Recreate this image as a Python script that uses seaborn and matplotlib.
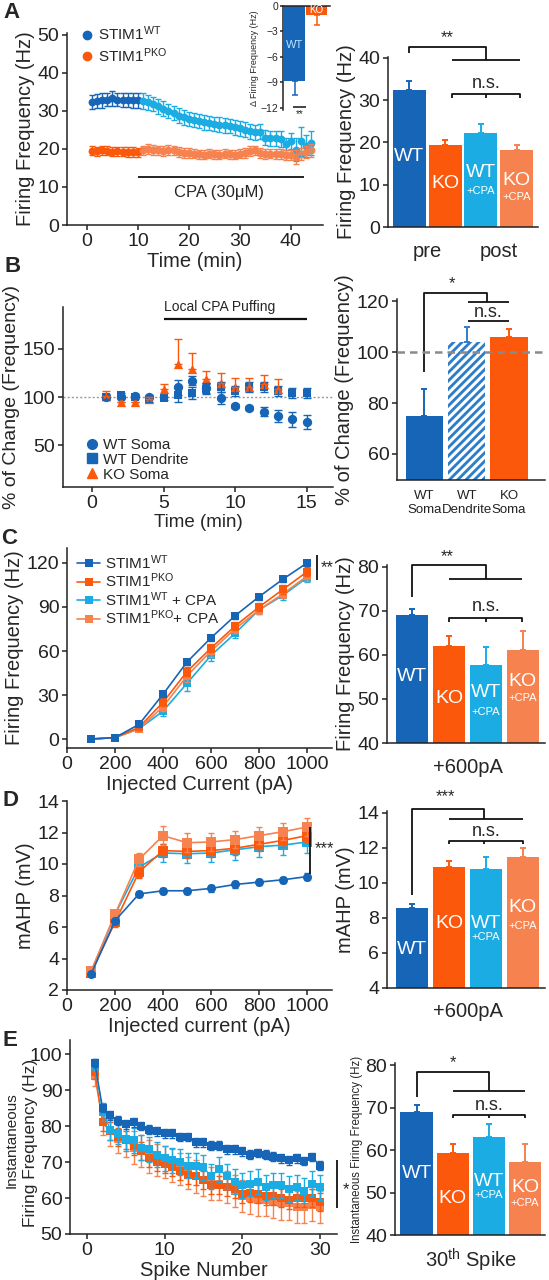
import numpy as np
import matplotlib
matplotlib.use("Agg")
import matplotlib.pyplot as plt
import seaborn as sns
from matplotlib.lines import Line2D

# ---------------- data ----------------
# A: time course (min) of firing frequency, WT / PKO
a_time = list(range(1, 45))
a_wt = [32.4, 32.6, 32.8, 33.0, 33.3, 33.0, 32.9, 32.9, 32.8, 32.8,
        32.6, 32.3, 31.8, 31.2, 30.6, 30.0, 29.4, 28.8, 28.3, 27.9,
        27.6, 27.3, 27.0, 26.8, 26.6, 26.4, 26.2, 26.0, 25.7, 25.4,
        25.1, 24.6, 24.4, 24.5, 23.0, 22.8, 22.8, 22.6, 21.3, 22.1,
        19.8, 22.0, 20.8, 21.5]
a_wt_err = [1.8, 1.8, 1.9, 1.8, 1.9, 1.8, 1.8, 1.8, 1.9, 1.9,
            2.0, 2.0, 1.9, 1.9, 1.9, 1.9, 1.9, 1.9, 1.9, 1.9,
            1.9, 1.9, 1.9, 1.9, 1.9, 1.9, 1.9, 1.9, 1.9, 1.9,
            1.9, 1.9, 2.0, 2.0, 2.0, 2.0, 2.0, 2.0, 1.5, 2.0,
            3.0, 3.8, 3.0, 3.2]
a_ko = [19.5, 19.4, 19.6, 19.5, 19.3, 19.4, 19.3, 19.2, 19.2, 19.1,
        19.6, 20.0, 19.8, 19.6, 19.4, 19.8, 19.6, 19.3, 19.0, 18.9,
        18.8, 18.6, 18.5, 18.7, 18.6, 18.5, 18.7, 18.6, 18.5, 18.8,
        19.0, 19.4, 19.6, 19.0, 18.7, 18.8, 18.6, 18.7, 18.5, 18.4,
        17.8, 18.6, 19.2, 19.6]
a_ko_err = [1.2, 1.2, 1.2, 1.2, 1.2, 1.2, 1.2, 1.2, 1.2, 1.2,
            1.3, 1.4, 1.3, 1.3, 1.3, 1.3, 1.3, 1.3, 1.3, 1.3,
            1.2, 1.2, 1.2, 1.2, 1.2, 1.2, 1.2, 1.2, 1.2, 1.2,
            1.3, 1.3, 1.3, 1.3, 1.3, 1.3, 1.3, 1.3, 1.3, 1.4,
            1.8, 1.6, 1.5, 1.6]
a_delta = [-8.8, -1.1]
a_delta_err = [1.7, 1.1]
a_bar = [32.5, 19.5, 22.2, 18.3]
a_bar_err = [2.0, 1.0, 2.1, 1.2]

# B: local CPA puffing, % of change
b_time = list(range(1, 16))
b_wt_soma = [100, 100, 101, 100, np.nan, 110, 117, 109, 99, 91, 88.5, 85, 80.5, 77, 74.5]
b_wt_soma_err = [2, 2, 2, 2, 0, 8, 5, 5, 6, 2, 2, 5, 6, 8, 7]
b_wt_dend = [100, 102.5, 100, 97, 98.5, 102.5, 104, 108.5, 110, 106.5, 110.5, 110, 106.5, 104, 104]
b_wt_dend_err = [3, 2, 2, 2, 2, 8, 6, 5, 5, 5, 5, 5, 5, 5, 5]
b_ko_time = list(range(1, 14))
b_ko_soma = [101, 95, 95, 98, 108, 134, 129, 119, 114, 110, 110, 113, 108]
b_ko_soma_err = [5, 0, 0, 2, 5, 26, 16, 8, 11, 10, 10, 10, 11]
b_cats = ["WT\nSoma", "WT\nDendrite", "KO\nSoma"]
b_bar = [75, 104, 106]
b_bar_err = [10.5, 6, 3]

# C: F-I curves
ci_current = [100, 200, 300, 400, 500, 600, 700, 800, 900, 1000]
c_wt = [0, 1, 10, 30.5, 52.5, 69, 84, 97, 109, 120]
c_wt_err = [0, 0.5, 1.5, 2, 2, 2, 2, 2, 2, 2]
c_ko = [0, 1, 8, 25, 46, 62, 77, 90, 102, 114]
c_ko_err = [0, 0.5, 1.5, 2.5, 3, 3, 3, 3, 3, 3]
c_wtc = [0, 1, 7, 19, 38, 57, 72, 88, 98, 110]
c_wtc_err = [0, 0.5, 1.5, 3, 5, 4, 3, 3, 3, 3]
c_koc = [0, 1, 7, 22, 43, 60, 75, 88, 99, 111]
c_koc_err = [0, 0.5, 1.5, 3, 4, 4, 3, 3, 3, 3]
c_bar = [69, 62, 57.7, 61]
c_bar_err = [1.5, 2.2, 4.1, 4.5]

# D: mAHP
d_wt = [3.0, 6.4, 8.1, 8.3, 8.3, 8.45, 8.7, 8.85, 9.0, 9.2]
d_wt_err = [0.1, 0.2, 0.2, 0.2, 0.2, 0.2, 0.2, 0.2, 0.2, 0.2]
d_ko = [3.1, 6.3, 9.5, 10.85, 10.8, 10.85, 11.0, 11.25, 11.5, 11.8]
d_ko_err = [0.2, 0.3, 0.4, 0.4, 0.4, 0.4, 0.4, 0.4, 0.4, 0.4]
d_wtc = [3.1, 6.8, 9.8, 10.7, 10.65, 10.7, 10.9, 11.1, 11.2, 11.4]
d_wtc_err = [0.2, 0.3, 0.6, 0.6, 0.6, 0.6, 0.65, 0.65, 0.65, 0.7]
d_koc = [3.2, 6.8, 10.3, 11.8, 11.35, 11.4, 11.55, 11.8, 12.05, 12.35]
d_koc_err = [0.2, 0.3, 0.4, 0.6, 0.6, 0.55, 0.55, 0.55, 0.55, 0.55]
d_bar = [8.55, 10.9, 10.8, 11.5]
d_bar_err = [0.25, 0.35, 0.65, 0.5]

# E: instantaneous frequency per spike
e_spike = list(range(1, 31))
e_wt = [97.5, 85, 83, 81.5, 80.5, 81, 80, 79, 78.5, 78,
        78, 77, 77, 75.5, 75.5, 74.5, 74.5, 73.5, 73.5, 73,
        72, 72.5, 72, 71.5, 71, 70.5, 71, 70.3, 71.4, 69]
e_wt_err = [1.2, 1.2, 1.2, 1.2, 1.2, 1.2, 1.2, 1.2, 1.2, 1.2,
            1.2, 1.2, 1.2, 1.2, 1.2, 1.2, 1.2, 1.2, 1.2, 1.2,
            1.2, 1.2, 1.2, 1.2, 1.2, 1.2, 1.2, 1.2, 1.2, 1.2]
e_wtc = [97, 84, 79, 78, 76.5, 76, 74, 73.5, 72, 71,
         70.5, 70, 69, 69, 68.5, 66, 68, 66, 64.5, 63.5,
         64, 64.5, 63, 63.5, 63.5, 62.5, 63, 62, 64, 63]
e_wtc_err = [1.5, 2.5, 3, 3, 3.5, 3.5, 3.5, 3.5, 3.5, 3.5,
             3.5, 3.5, 3.5, 3.5, 3.5, 3.5, 3.5, 3.5, 3.5, 3.5,
             3.5, 3.5, 3.5, 3.5, 3.5, 3.5, 3.5, 3.5, 3.5, 3.5]
e_ko = [95, 81, 78.5, 77, 76, 74.5, 73, 71, 70, 69.5,
        68.5, 67.5, 66.5, 66, 65, 63.5, 63.5, 63, 62.5, 61,
        61.5, 61, 60.5, 60.5, 60, 59.5, 60, 60, 60, 59]
e_ko_err = [2, 2.5, 2.5, 2.5, 2.5, 2.5, 2.5, 2.5, 2.5, 2.5,
            2.5, 2.5, 2.5, 2.5, 2.5, 2.5, 2.5, 2.5, 2.5, 2.5,
            2.5, 2.5, 2.5, 2.5, 2.5, 2.5, 2.5, 2.5, 2.5, 2.5]
e_koc = [94, 81, 78.5, 76.5, 76, 74, 73, 71.5, 70.5, 70,
         69, 68, 67, 66, 65, 64, 64, 63, 62, 60.5,
         60, 59.5, 59.5, 59, 58.5, 58.5, 57.5, 57.5, 58, 57.5]
e_koc_err = [3, 3.5, 4, 4, 4.5, 4.5, 4.5, 4.5, 4.5, 4.5,
             4.5, 4.5, 4.5, 4.5, 4.5, 4.5, 4.5, 4.5, 4.5, 4.5,
             4.5, 4.5, 4.5, 4.5, 4.5, 4.5, 4.5, 4.5, 4.5, 4.5]
e_bar = [69, 59.2, 63, 57.2]
e_bar_err = [1.5, 2.3, 3.2, 4.3]

bar_cats = ["WT", "KO", "WT+CPA", "KO+CPA"]

# ---------------- style ----------------
sns.set_style("ticks")
plt.rcParams["font.family"] = ["Liberation Sans", "DejaVu Sans"]
plt.rcParams["mathtext.fontset"] = "custom"
plt.rcParams["mathtext.rm"] = "Liberation Sans"
plt.rcParams["mathtext.it"] = "Liberation Sans:italic"
plt.rcParams["axes.linewidth"] = 1.1
plt.rcParams["axes.edgecolor"] = "#222222"
plt.rcParams["xtick.major.width"] = 1.1
plt.rcParams["ytick.major.width"] = 1.1
plt.rcParams["xtick.major.size"] = 3.5
plt.rcParams["ytick.major.size"] = 3.5
plt.rcParams["xtick.major.pad"] = 2
plt.rcParams["ytick.major.pad"] = 2
plt.rcParams["hatch.linewidth"] = 2.2
plt.rcParams["hatch.color"] = "white"

col_wt = "#1665B7"
col_ko = "#FC580C"
col_wtc = "#1BACE4"
col_koc = "#F68250"
bar_cols = [col_wt, col_ko, col_wtc, col_koc]

W, H = 549, 1280
fig = plt.figure(figsize=(W / 100, H / 100), dpi=100)
TICK = 14
LAB = 14.5


def add_ax(x0, y0, x1, y1):
    return fig.add_axes([x0 / W, 1 - y1 / H, (x1 - x0) / W, (y1 - y0) / H])


def style(ax, size=TICK):
    sns.despine(ax=ax)
    ax.tick_params(labelsize=size, colors="#222222")


def line(ax, xs, ys, lw=1.3):
    ax.plot(xs, ys, color="#111111", lw=lw, clip_on=False, solid_capstyle="butt")


def bar_panel(ax, cats, vals, errs, cols, width):
    sns.barplot(x=cats, y=vals, hue=cats, palette=cols, legend=False,
                width=width, saturation=1, ax=ax, linewidth=0)
    for i, (v, e, c) in enumerate(zip(vals, errs, cols)):
        ax.errorbar(i, v, yerr=[[0], [e]], fmt="none", ecolor=c,
                    elinewidth=1.4, capsize=2.5, capthick=1.4)
    ax.tick_params(axis="x", length=0)
    ax.set_xlabel("")
    style(ax)


def inner(ax, x, y, s, size=14):
    ax.text(x, y, s, color="white", ha="center", va="center", fontsize=size)


def errs(ax, x, y, e, c, cap=2):
    ax.errorbar(x, y, yerr=e, fmt="none", ecolor=c, elinewidth=1.0,
                capsize=cap, capthick=1.0)


def ftext(x, y, s, **kw):
    fig.text(x / W, 1 - y / H, s, **kw)


# ================= A =================
ax = add_ax(67, 33, 323, 225)
errs(ax, a_time[:10], a_wt[:10], a_wt_err[:10], col_wt)
errs(ax, a_time[10:], a_wt[10:], a_wt_err[10:], col_wtc)
errs(ax, a_time[:10], a_ko[:10], a_ko_err[:10], col_ko)
errs(ax, a_time[10:], a_ko[10:], a_ko_err[10:], col_koc)
sns.scatterplot(x=a_time[:10], y=a_wt[:10], color=col_wt, s=32, linewidth=0, ax=ax)
sns.scatterplot(x=a_time[10:], y=a_wt[10:], color=col_wtc, s=32, linewidth=0, ax=ax)
sns.scatterplot(x=a_time[:10], y=a_ko[:10], color=col_ko, s=32, linewidth=0, ax=ax)
sns.scatterplot(x=a_time[10:], y=a_ko[10:], color=col_koc, s=32, linewidth=0, ax=ax)
ax.set_xlim(-3.9, 46.3)
ax.set_ylim(0, 50.5)
ax.set_xticks([0, 10, 20, 30, 40])
ax.set_yticks([0, 10, 20, 30, 40, 50])
line(ax, [10, 42.5], [12.7, 12.7], lw=1.3)
ax.text(26, 8.5, "CPA (30\u03bcM)", ha="center", va="center", fontsize=12)
ax.set_xlabel("Time (min)", fontsize=LAB, labelpad=2)
ax.set_ylabel("Firing Frequency (Hz)", fontsize=LAB, labelpad=2)
h = [Line2D([], [], marker="o", ls="none", color=col_wt, markersize=6),
     Line2D([], [], marker="o", ls="none", color=col_ko, markersize=6)]
ax.legend(h, ["STIM1$^{\\mathrm{WT}}$", "STIM1$^{\\mathrm{PKO}}$"], loc="upper left",
          bbox_to_anchor=(0.06, 1.045), frameon=False, fontsize=11,
          handlelength=0.6, handletextpad=0.4, borderpad=0, borderaxespad=0,
          labelspacing=0.2)
style(ax)

# inset
ax = add_ax(283, 6, 330, 110)
sns.barplot(x=["WT", "KO"], y=a_delta, hue=["WT", "KO"], palette=[col_wt, col_ko],
            legend=False, width=0.95, saturation=1, ax=ax, linewidth=0)
for i, (v, e, c) in enumerate(zip(a_delta, a_delta_err, [col_wt, col_ko])):
    ax.errorbar(i, v, yerr=[[e], [0]], fmt="none", ecolor=c, elinewidth=1.1,
                capsize=2, capthick=1.1)
ax.set_xlim(-0.52, 1.6)
ax.set_ylim(-12.25, 0)
ax.set_yticks([0, -3, -6, -9, -12])
ax.set_xticks([])
ax.set_xlabel("")
for s in ["right", "bottom"]:
    ax.spines[s].set_visible(False)
ax.tick_params(labelsize=7.5, length=2.5, pad=1)
ax.set_ylabel("\u0394 Firing Frequency (Hz)", fontsize=6.5, labelpad=1)
ax.text(0, -4.6, "WT", color="#BFE4FA", ha="center", va="center", fontsize=8)
ax.text(1, -0.5, "KO", color="white", ha="center", va="center", fontsize=7)
line(ax, [-0.07, 0.5], [-11.9, -11.9], lw=1.1)
ax.text(0.22, -12.2, "**", ha="center", va="top", fontsize=7)

# A bars
ax = add_ax(388, 57, 538, 227)
bar_panel(ax, bar_cats, a_bar, a_bar_err, bar_cols, 0.92)
ax.set_xlim(-0.6, 3.6)
ax.set_ylim(0, 40.2)
ax.set_yticks([0, 10, 20, 30, 40])
ax.set_xticklabels([])
ax.set_ylabel("Firing Frequency (Hz)", fontsize=LAB, labelpad=2)
inner(ax, 0, 16.6, "WT")
inner(ax, 1, 10.4, "KO")
inner(ax, 2, 12.8, "WT")
inner(ax, 2, 8.5, "+CPA", 8)
inner(ax, 3, 11.1, "KO")
inner(ax, 3, 7.1, "+CPA", 8)
line(ax, [0, 0, 2.15, 2.15], [41.2, 42.6, 42.6, 39.5])
line(ax, [1.2, 3.1], [39.5, 39.5])
ax.text(1.05, 42.9, "**", ha="center", va="bottom", fontsize=12)
line(ax, [1.2, 1.2, 3.1, 3.1], [30.6, 31.5, 31.5, 30.6])
line(ax, [2.15, 2.15], [31.5, 30.6])
ax.text(2.15, 32.0, "n.s.", ha="center", va="bottom", fontsize=13)
ax.text(0.5, -3.5, "pre", ha="center", va="top", fontsize=LAB)
ax.text(2.5, -3.5, "post", ha="center", va="top", fontsize=LAB)

# ================= B =================
ax = add_ax(63, 307, 333, 487)
ax.axhline(100, color="#999999", lw=1.0, ls=(0, (1.5, 1.5)), zorder=0)
errs(ax, b_time, b_wt_soma, b_wt_soma_err, col_wt, cap=3)
errs(ax, b_time, b_wt_dend, b_wt_dend_err, col_wt, cap=3)
ax.errorbar(b_ko_time, b_ko_soma, yerr=[np.zeros(len(b_ko_soma)), b_ko_soma_err],
            fmt="none", ecolor=col_ko, elinewidth=1.0, capsize=3, capthick=1.0)
sns.scatterplot(x=b_time, y=b_wt_soma, color=col_wt, marker="o", s=45, linewidth=0, ax=ax)
sns.scatterplot(x=b_time, y=b_wt_dend, color=col_wt, marker="s", s=40, linewidth=0, ax=ax)
sns.scatterplot(x=b_ko_time, y=b_ko_soma, color=col_ko, marker="^", s=45, linewidth=0, ax=ax)
ax.set_xlim(-2.03, 16.85)
ax.set_ylim(7.2, 192.8)
ax.set_xticks([0, 5, 10, 15])
ax.set_yticks([50, 100, 150])
line(ax, [5, 15], [180, 180], lw=1.6)
ax.text(5, 186, "Local CPA Puffing", ha="left", va="bottom", fontsize=10)
ax.set_xlabel("Time (min)", fontsize=13.5, labelpad=2)
ax.set_ylabel("% of Change (Frequency)", fontsize=14, labelpad=2)
h = [Line2D([], [], marker="o", ls="none", color=col_wt, markersize=7),
     Line2D([], [], marker="s", ls="none", color=col_wt, markersize=6.5),
     Line2D([], [], marker="^", ls="none", color=col_ko, markersize=7)]
ax.legend(h, ["WT Soma", "WT Dendrite", "KO Soma"], loc="lower left",
          bbox_to_anchor=(0.09, 0.03), frameon=False, fontsize=11,
          handlelength=0.6, handletextpad=0.45, borderpad=0, borderaxespad=0,
          labelspacing=0.05)
style(ax)

ax = add_ax(397, 299, 545, 480)
bar_panel(ax, b_cats, b_bar, b_bar_err, [col_wt, "#2E7DCA", col_ko], 0.88)
hp = ax.patches[1]
hp.set_hatch("////")
hp.set_edgecolor("white")
hp.set_linewidth(0)
ax.axhline(100, color="#8a8a8a", lw=1.8, ls=(0, (3, 2)), zorder=5, clip_on=False)
ax.set_xlim(-0.65, 2.85)
ax.set_ylim(49.8, 120.8)
ax.set_yticks([60, 80, 100, 120])
ax.tick_params(axis="x", labelsize=9.5, pad=7)
ax.set_ylabel("% of Change (Frequency)", fontsize=14.5, labelpad=2)
line(ax, [0, 0, 1.48, 1.48], [92, 123, 123, 119.6])
line(ax, [1.03, 2.0], [119.6, 119.6])
line(ax, [1.03, 2.0], [112.2, 112.2])
ax.text(0.65, 127, "*", ha="center", va="center", fontsize=12)
ax.text(1.5, 115.5, "n.s.", ha="center", va="center", fontsize=13)

# ================= C =================
ax = add_ax(67, 548, 332, 748)
c_series = [(c_wtc, c_wtc_err, col_wtc), (c_koc, c_koc_err, col_koc),
            (c_ko, c_ko_err, col_ko), (c_wt, c_wt_err, col_wt)]
for ys, es, c in c_series:
    errs(ax, ci_current, ys, es, c)
    sns.lineplot(x=ci_current, y=ys, color=c, marker="s", markersize=6,
                 markeredgewidth=0, lw=1.2, ax=ax)
ax.set_xlim(0, 1104)
ax.set_ylim(-6.1, 130.2)
ax.set_xticks([0, 200, 400, 600, 800, 1000])
ax.set_yticks([0, 30, 60, 90, 120])
ax.set_xlabel("Injected Current (pA)", fontsize=LAB, labelpad=2)
ax.set_ylabel("Firing Frequency (Hz)", fontsize=LAB, labelpad=2)
h = [Line2D([], [], marker="s", color=c, markersize=6, lw=1.2, markeredgewidth=0)
     for c in [col_wt, col_ko, col_wtc, col_koc]]
ax.legend(h, ["STIM1$^{\\mathrm{WT}}$", "STIM1$^{\\mathrm{PKO}}$",
              "STIM1$^{\\mathrm{WT}}$ + CPA", "STIM1$^{\\mathrm{PKO}}$+ CPA"],
          loc="upper left", bbox_to_anchor=(0.038, 0.975), frameon=False,
          fontsize=11, handlelength=1.5, handletextpad=0.3, borderpad=0,
          borderaxespad=0, labelspacing=0.0)
line(ax, [1042, 1042], [125.4, 108.4])
ax.text(1058, 116.6, "**", ha="left", va="center", fontsize=12)
style(ax)

ax = add_ax(387, 565, 545, 743)
bar_panel(ax, bar_cats, c_bar, c_bar_err, bar_cols, 0.87)
ax.set_xlim(-0.68, 3.6)
ax.set_ylim(40, 80.4)
ax.set_yticks([40, 50, 60, 70, 80])
ax.set_xticklabels([])
ax.set_ylabel("Firing Frequency (Hz)", fontsize=LAB, labelpad=2)
inner(ax, 0, 55, "WT")
inner(ax, 1, 50, "KO")
inner(ax, 2, 51.4, "WT")
inner(ax, 2, 47.1, "+CPA", 8)
inner(ax, 3, 53.9, "KO")
inner(ax, 3, 50.2, "+CPA", 8)
line(ax, [0, 0, 2.0, 2.0], [73.2, 80.45, 80.45, 77.3])
line(ax, [1.0, 2.97], [77.3, 77.3])
ax.text(0.95, 82.3, "**", ha="center", va="center", fontsize=12)
line(ax, [1.0, 1.0, 2.97, 2.97], [67.4, 68.4, 68.4, 67.4])
line(ax, [2.0, 2.0], [68.4, 67.4])
ax.text(2.0, 70.9, "n.s.", ha="center", va="center", fontsize=13)
ax.text(1.5, 36.5, "+600pA", ha="center", va="top", fontsize=LAB)

# ================= D =================
ax = add_ax(67, 801, 332, 990)
d_series = [(d_wtc, d_wtc_err, col_wtc, "s"), (d_ko, d_ko_err, col_ko, "s"),
            (d_koc, d_koc_err, col_koc, "s"), (d_wt, d_wt_err, col_wt, "o")]
for ys, es, c, m in d_series:
    errs(ax, ci_current, ys, es, c)
    sns.lineplot(x=ci_current, y=ys, color=c, marker=m, markersize=6.5,
                 markeredgewidth=0, lw=1.2, ax=ax)
ax.set_xlim(0, 1104)
ax.set_ylim(2, 14)
ax.set_xticks([0, 200, 400, 600, 800, 1000])
ax.set_yticks([2, 4, 6, 8, 10, 12, 14])
ax.set_xlabel("Injected current (pA)", fontsize=LAB, labelpad=2)
ax.set_ylabel("mAHP (mV)", fontsize=LAB, labelpad=2)
line(ax, [1013, 1013], [12.35, 9.35])
ax.text(1030, 10.95, "***", ha="left", va="center", fontsize=12)
style(ax)

ax = add_ax(387, 811, 545, 988)
bar_panel(ax, bar_cats, d_bar, d_bar_err, bar_cols, 0.87)
ax.set_xlim(-0.68, 3.6)
ax.set_ylim(4, 14.1)
ax.set_yticks([4, 6, 8, 10, 12, 14])
ax.set_xticklabels([])
ax.set_ylabel("mAHP (mV)", fontsize=LAB, labelpad=2)
inner(ax, 0, 6.17, "WT")
inner(ax, 1, 7.66, "KO")
inner(ax, 2, 7.7, "WT")
inner(ax, 2, 6.9, "+CPA", 8)
inner(ax, 3, 8.57, "KO")
inner(ax, 3, 7.55, "+CPA", 8)
line(ax, [0, 0, 1.96, 1.96], [9.3, 14.23, 14.23, 13.66])
line(ax, [1.01, 3.01], [13.66, 13.66])
ax.text(0.9, 14.9, "***", ha="center", va="center", fontsize=12)
line(ax, [1.01, 1.01, 3.01, 3.01], [12.2, 12.4, 12.4, 12.2])
line(ax, [1.96, 1.96], [12.4, 12.2])
ax.text(2.0, 12.91, "n.s.", ha="center", va="center", fontsize=13)
ax.text(1.5, 3.2, "+600pA", ha="center", va="top", fontsize=LAB)

# ================= E =================
ax = add_ax(70, 1040, 337, 1234)
e_series = [(e_koc, e_koc_err, col_koc), (e_ko, e_ko_err, col_ko),
            (e_wtc, e_wtc_err, col_wtc), (e_wt, e_wt_err, col_wt)]
for ys, es, c in e_series:
    errs(ax, e_spike, ys, es, c)
    sns.lineplot(x=e_spike, y=ys, color=c, marker="s", markersize=5.5,
                 markeredgewidth=0, lw=1.0, ax=ax)
ax.set_xlim(-2.2, 32.2)
ax.set_ylim(50, 103.9)
ax.set_xticks([0, 10, 20, 30])
ax.set_yticks([50, 60, 70, 80, 90, 100])
ax.set_xlabel("Spike Number", fontsize=LAB, labelpad=2)
line(ax, [32.2, 32.2], [70.6, 57.2])
ax.text(33.3, 62.2, "*", ha="center", va="center", fontsize=12)
style(ax)
ftext(12, 1140, "Instantaneous", rotation=90, ha="center", va="center", fontsize=11)
ftext(31, 1143, "Firing Frequency (Hz)", rotation=90, ha="center", va="center", fontsize=12.5)

ax = add_ax(395, 1063, 545, 1235)
bar_panel(ax, bar_cats, e_bar, e_bar_err, bar_cols, 0.9)
ax.set_xlim(-0.6, 3.55)
ax.set_ylim(40, 80.5)
ax.set_yticks([40, 50, 60, 70, 80])
ax.set_xticklabels([])
ax.set_ylabel("Instantaneous Firing Frequency (Hz)", fontsize=8.3, labelpad=2)
inner(ax, 0, 54.4, "WT")
inner(ax, 1, 48.7, "KO")
inner(ax, 2, 52.5, "WT")
inner(ax, 2, 49.4, "+CPA", 8)
inner(ax, 3, 51.3, "KO")
inner(ax, 3, 47.5, "+CPA", 8)
line(ax, [0, 0, 2.0, 2.0], [72.5, 78.35, 78.35, 73.9])
line(ax, [1.01, 3.0], [73.9, 73.9])
ax.text(1.0, 80.7, "*", ha="center", va="center", fontsize=12)
line(ax, [1.01, 1.01, 3.0, 3.0], [67.5, 68.2, 68.2, 67.5])
line(ax, [2.0, 2.0], [68.2, 67.5])
ax.text(2.0, 70.6, "n.s.", ha="center", va="center", fontsize=13)
ax.text(1.5, 37.2, "30$^{\\mathrm{th}}$ Spike", ha="center", va="top", fontsize=LAB)

# panel letters
for lab, (x, y) in zip("ABCDE", [(12, 13), (13, 266), (9, 538), (10, 800), (10, 1040)]):
    ftext(x, y, lab, fontsize=16, fontweight="bold", ha="center", va="center")

fig.savefig("out.png", dpi=100)
